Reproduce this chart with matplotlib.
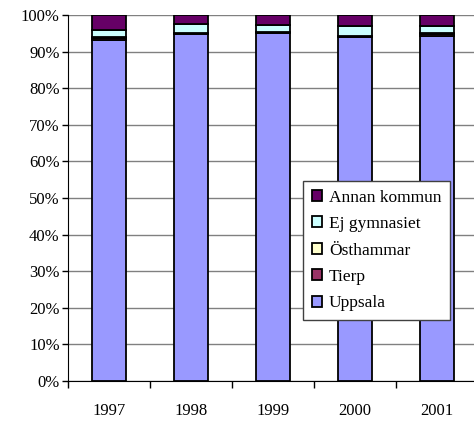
import matplotlib
matplotlib.use("Agg")
import matplotlib.pyplot as plt
import numpy as np

years = ["1997", "1998", "1999", "2000", "2001"]
series_names = ["Uppsala", "Tierp", "Östhammar", "Ej gymnasiet", "Annan kommun"]
uppsala = [93.2, 94.8, 95.2, 94.0, 94.2]
tierp = [0.5, 0.2, 0.1, 0.2, 0.5]
osthammar = [0.3, 0.1, 0.1, 0.1, 0.3]
ej_gymnasiet = [1.9, 2.4, 1.9, 2.6, 1.9]
annan = [4.1, 2.5, 2.7, 3.1, 3.1]
colors = ["#9999FF", "#993366", "#FFFFCC", "#CCFFFF", "#660066"]

data = [uppsala, tierp, osthammar, ej_gymnasiet, annan]

plt.rcParams['font.family'] = ['Liberation Serif', 'DejaVu Serif']
fig = plt.figure(figsize=(4.74, 4.22), dpi=100)
ax = fig.add_axes([68/474, (422-381)/422, 410/474, 366/422])

x = np.arange(len(years))
bottom = np.zeros(len(years))
handles = []
total = np.array([sum(d[i] for d in data) for i in range(len(years))])
for vals, name, c in zip(data, series_names, colors):
    v = np.array(vals, dtype=float)
    pct = v / total * 100
    b = ax.bar(x, pct, bottom=bottom, width=0.41, color=c, edgecolor="black",
               linewidth=1.3, label=name, zorder=3)
    handles.append(b)
    bottom += pct

ax.set_xlim(-0.5, 4.5)
ax.set_ylim(0, 100)
ax.set_yticks(np.arange(0, 101, 10))
ax.set_yticklabels([f"{v}%" for v in range(0, 101, 10)], fontsize=12)
ax.yaxis.grid(True, color="#808080", linewidth=1.0, zorder=0)
ax.set_axisbelow(True)

ax.set_xticks(np.arange(-0.5, 4.5, 1.0))
ax.set_xticklabels([])
ax.set_xticks(x, minor=True)
ax.set_xticklabels(years, minor=True, fontsize=12)
ax.tick_params(axis='x', which='major', direction='out', length=5, width=1, color="black")
ax.tick_params(axis='x', which='minor', length=0, pad=16)
ax.tick_params(axis='y', direction='out', length=4, width=1, pad=2)

for s in ["top", "right"]:
    ax.spines[s].set_visible(False)
ax.spines["left"].set_color("black")
ax.spines["bottom"].set_color("black")

leg = ax.legend(handles[::-1], series_names[::-1], loc="upper left",
                bbox_to_anchor=(303/474, 1-181/422), bbox_transform=fig.transFigure,
                fontsize=12.5, frameon=True, fancybox=False, handlelength=0.6,
                handleheight=0.6, handletextpad=0.4, labelspacing=0.6,
                borderpad=0.5, borderaxespad=0, framealpha=1.0)
leg.get_frame().set_edgecolor("#404040")
leg.get_frame().set_linewidth(1.0)

fig.savefig("out.png", dpi=100)
